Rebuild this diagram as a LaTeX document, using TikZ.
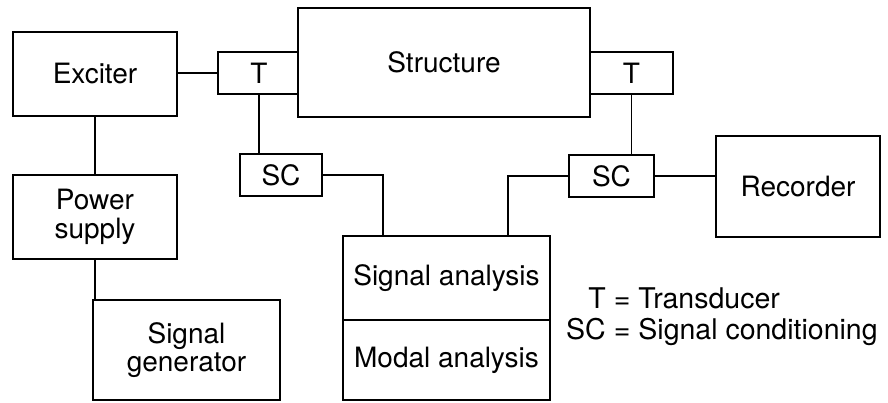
\documentclass[tikz,border=0pt]{standalone}
\usepackage{fontspec}
\setmainfont{TeX Gyre Heros}
\begin{document}
\begin{tikzpicture}[x=1pt,y=-1pt,
  blk/.style={draw,line width=2.8pt,inner sep=0pt,font=\fontsize{28}{28.5}\selectfont,align=center},
  con/.style={line width=1.5pt}]
\useasboundingbox (0,0) rectangle (888,403);
\node[blk,minimum width=164,minimum height=84] (exc) at (95,74) {Exciter};
\node[blk,minimum width=82,minimum height=42] (T1) at (259,73) {T};
\node[blk,minimum width=83,minimum height=42] (T2) at (631.5,73) {T};
\node[blk,fill=white,minimum width=292,minimum height=109] (str) at (444,62.5) {Structure};
\node[blk,minimum width=82,minimum height=42] (SC1) at (281,175) {SC};
\node[blk,minimum width=85,minimum height=42] (SC2) at (611.5,176) {SC};
\node[blk,minimum width=164,minimum height=101] (rec) at (798,186.5) {Recorder};
\node[blk,minimum width=164,minimum height=84] (pow) at (95,217) {Power\\supply};
\node[blk,minimum width=187,minimum height=100] (gen) at (186.5,350) {Signal\\generator};
\node[blk,minimum width=207,minimum height=84] (sa) at (446.5,278) {Signal analysis};
\node[blk,minimum width=207,minimum height=80] (ma) at (446.5,360) {Modal analysis};
\node[font=\fontsize{28.5}{31}\selectfont,inner sep=0pt,anchor=west] (leg) at (566,318)
  {\begin{tabular}{@{}r@{\hspace{8pt}=\hspace{8pt}}l@{}}T & Transducer\\SC & Signal conditioning\end{tabular}};
\draw[con] (exc.east |- T1.west) -- (T1.west);
\draw[con] (exc.south) -- (pow.north);
\draw[con] (pow.south) -- (pow.south |- gen.north);
\draw[con] (T1.south) -- (T1.south |- SC1.north);
\draw[con] (T2.south) -- (T2.south |- SC2.north);
\draw[con] (SC1.east) -| ([xshift=-63.5pt]sa.north);
\draw[con] (SC2.west) -| ([xshift=61.5pt]sa.north);
\draw[con] (SC2.east) -- (SC2.east -| rec.west);
\end{tikzpicture}
\end{document}
